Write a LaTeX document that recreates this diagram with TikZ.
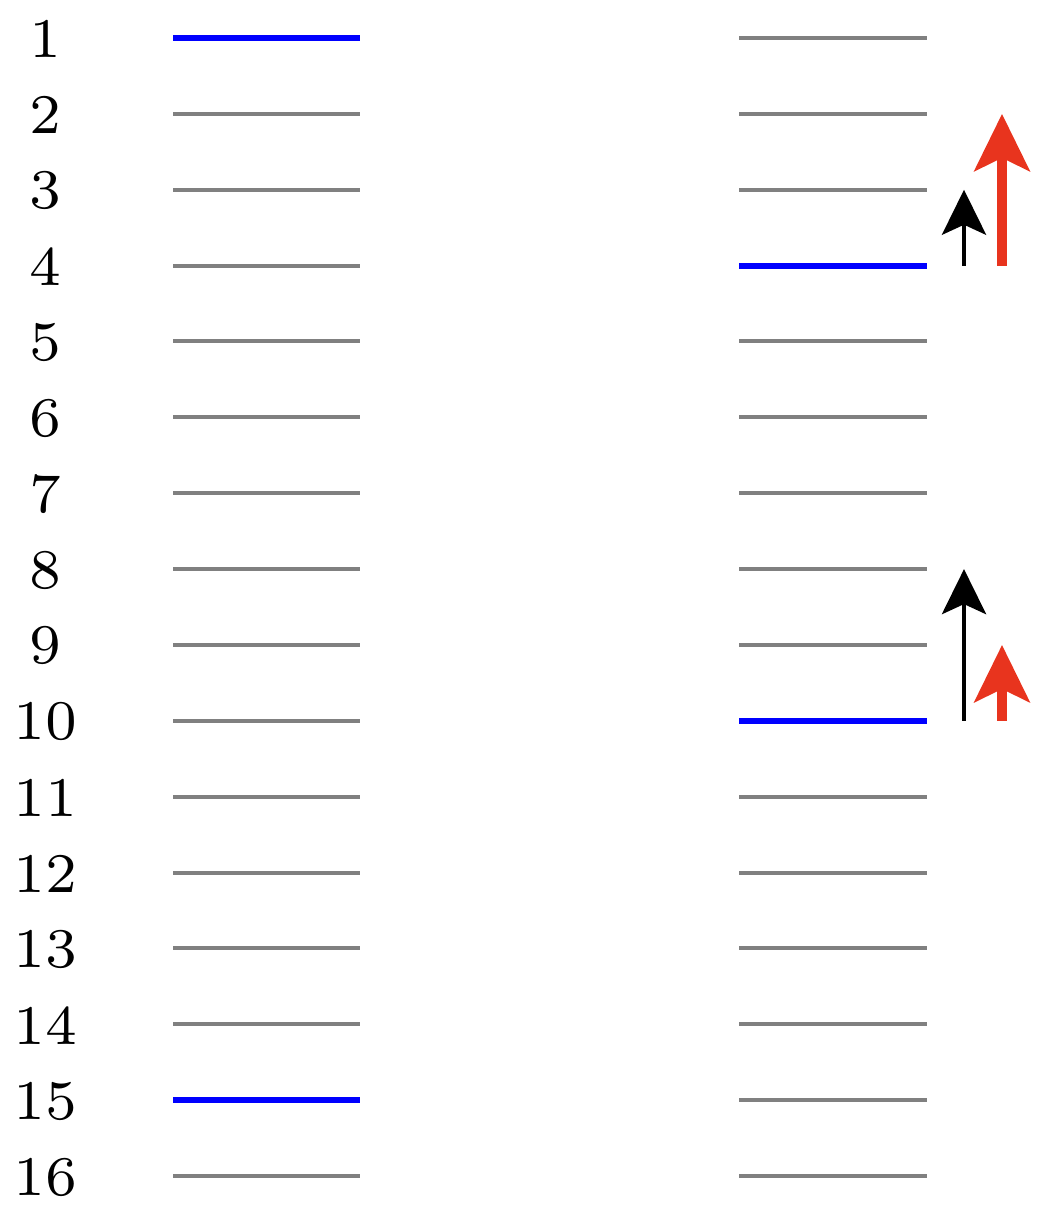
\documentclass[tikz,border=0pt]{standalone}
\usepackage{graphicx}
\usetikzlibrary{arrows.meta}
\definecolor{lvlgray}{RGB}{128,128,128}
\definecolor{arrred}{RGB}{232,52,30}
\newcommand{\lvlnum}[1]{\scalebox{4}{\fontsize{7}{8}\selectfont #1}}
\begin{document}
\begin{tikzpicture}[x=0.5pt,y=-0.5pt,
  level/.style={draw=lvlgray,line width=2pt},
  occ/.style={draw=blue,line width=3pt},
  lab/.style={anchor=center,inner sep=0pt},
  blackarr/.style={draw=black,line width=2.2pt,-{Stealth[length=22.5pt,width=22pt,inset=5pt]}},
  redarr/.style={draw=arrred,line width=5pt,-{Stealth[length=28.5pt,width=27.5pt,inset=6.5pt]}}]
\useasboundingbox (0,0) rectangle (1044,1214);
\foreach \i in {1,...,16}{
  \pgfmathsetmacro{\yy}{38+(\i-1)*75.87}
  \node[lab] (n\i) at (45,\yy+1) {\lvlnum{\i}};
  \coordinate (La\i) at (173,\yy);
  \coordinate (Lb\i) at (360,\yy);
  \coordinate (Ra\i) at (739,\yy);
  \coordinate (Rb\i) at (927,\yy);
}
\foreach \i in {2,...,14,16}{\draw[level] (La\i) -- (Lb\i);}
\foreach \i in {1,2,3,5,6,7,8,9,11,12,13,14,15,16}{\draw[level] (Ra\i) -- (Rb\i);}
\draw[occ] (La1) -- (Lb1);
\draw[occ] (La15) -- (Lb15);
\draw[occ] (Ra4) -- (Rb4);
\draw[occ] (Ra10) -- (Rb10);
% arrow anchors
\path (Rb4) ++(37,0) coordinate (bk4) ++(38,0) coordinate (rd4);
\path (Rb3) ++(37,0) coordinate (bk3);
\path (Rb2) ++(75,0) coordinate (rd2);
\path (Rb10) ++(37,0) coordinate (bk10) ++(38,0) coordinate (rd10);
\path (Rb8) ++(37,0) coordinate (bk8);
\path (Rb9) ++(75,0) coordinate (rd9);
\draw[blackarr] (bk4) -- (bk3);
\draw[redarr] (rd4) -- (rd2);
\draw[blackarr] (bk10) -- (bk8);
\draw[redarr] (rd10) -- (rd9);
\end{tikzpicture}
\end{document}
